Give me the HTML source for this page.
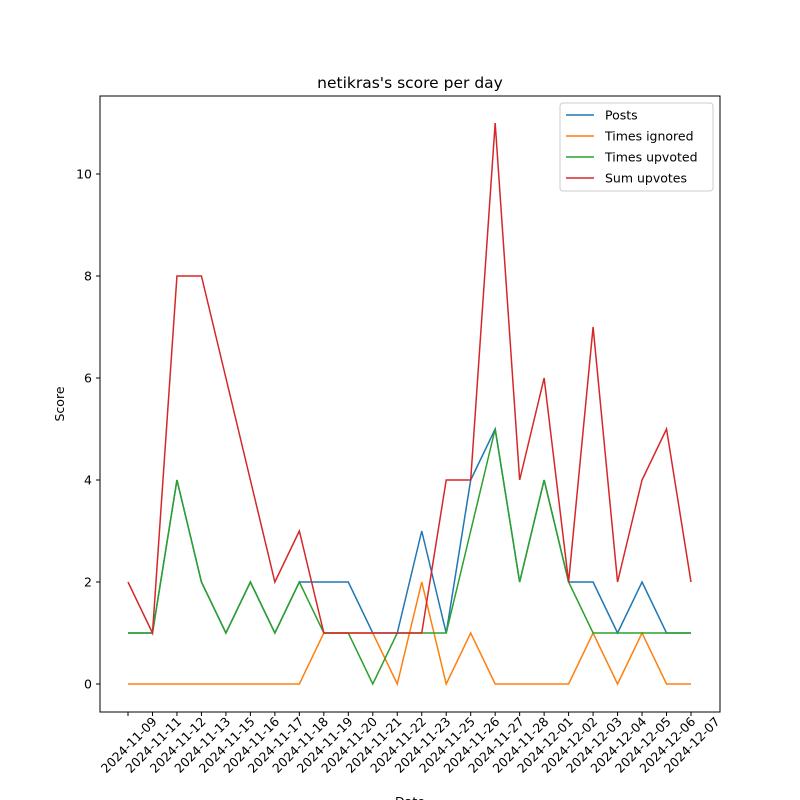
<!DOCTYPE html>
<html><head><meta charset="utf-8"><style>body{margin:0;background:#fff}svg{display:block;font-family:"DejaVu Sans","Liberation Sans",sans-serif}</style></head>
<body>
<svg id="chart" width="800" height="800" viewBox="0 0 800 800" xmlns="http://www.w3.org/2000/svg">
<rect width="800" height="800" fill="#fff"/>
<text x="410" y="88" font-size="15.5" text-anchor="middle">netikras's score per day</text>
<g id="plot"></g>
<rect x="100" y="96" width="620" height="616" fill="none" stroke="#000" stroke-width="1"/>
<text transform="translate(64,404) rotate(-90)" font-size="12.5" text-anchor="middle">Score</text>
<text x="410" y="806" font-size="12.5" text-anchor="middle">Date</text>
</svg>
<script>
const dates=["2024-11-09","2024-11-11","2024-11-12","2024-11-13","2024-11-15","2024-11-16","2024-11-17","2024-11-18","2024-11-19","2024-11-20","2024-11-21","2024-11-22","2024-11-23","2024-11-25","2024-11-26","2024-11-27","2024-11-28","2024-12-01","2024-12-02","2024-12-03","2024-12-04","2024-12-05","2024-12-06","2024-12-07"];
const posts=[1,1,4,2,1,2,1,2,2,2,1,1,3,1,4,5,2,4,2,2,1,2,1,1];
const timesIgnored=[0,0,0,0,0,0,0,0,1,1,1,0,2,0,1,0,0,0,0,1,0,1,0,0];
const timesUpvoted=[1,1,4,2,1,2,1,2,1,1,0,1,1,1,3,5,2,4,2,1,1,1,1,1];
const sumUpvotes=[2,1,8,8,6,4,2,3,1,1,1,1,1,4,4,11,4,6,2,7,2,4,5,2];
const yTicks=[0,2,4,6,8,10];
const seriesNames=["Posts","Times ignored","Times upvoted","Sum upvotes"];
const colors=["#1f77b4","#ff7f0e","#2ca02c","#d62728"];
const NS="http://www.w3.org/2000/svg";
const g=document.getElementById('plot');
const n=dates.length;
const xS=i=>128+i*(691-128)/(n-1);
const yS=v=>684-v*51;
function mk(t,a){const e=document.createElementNS(NS,t);for(const k in a)e.setAttribute(k,a[k]);g.appendChild(e);return e;}
yTicks.forEach(v=>{
 const t=mk('line',{x1:96,x2:100,y1:yS(v),y2:yS(v),stroke:'#000'});
 
 
 const l=mk('text',{x:92,y:yS(v)+4.5,'font-size':12.5,'text-anchor':'end'});
 
 
 l.textContent=v;
});
dates.forEach((d,i)=>{
 const x=xS(i);
 const t=mk('line',{x1:x,x2:x,y1:712,y2:716,stroke:'#000'});
 
 
 const l=mk('text',{transform:`translate(${x+4},${748}) rotate(-45)`,'font-size':12.5,'text-anchor':'middle'});
 
 
 l.textContent=d;
});
[posts,timesIgnored,timesUpvoted,sumUpvotes].forEach((s,k)=>{
 const p=mk('polyline',{points:s.map((v,i)=>xS(i)+','+yS(v)).join(' '),fill:'none',stroke:colors[k],'stroke-width':1.5});
 
 
});
const lg=mk('rect',{x:560,y:103,width:153,height:88,rx:3,fill:'#fff','fill-opacity':0.8,stroke:'#ccc'});


seriesNames.forEach((nm,k)=>{
 const y=115+k*21;
 const ln=mk('line',{x1:566,x2:594,y1:y,y2:y,stroke:colors[k],'stroke-width':1.5});
 
 
 const t=mk('text',{x:605,y:y+4.5,'font-size':12.5});
 
 
 t.textContent=nm;
});
</script>
</body></html>
